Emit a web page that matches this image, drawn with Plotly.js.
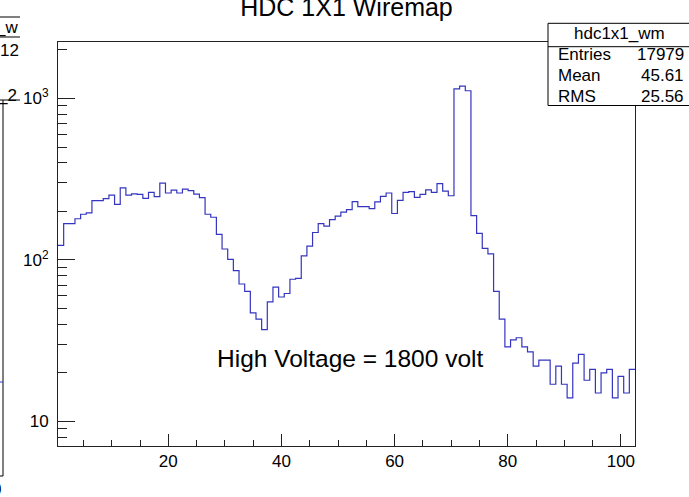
<!DOCTYPE html>
<html>
<head>
<meta charset="utf-8">
<script src="https://cdn.plot.ly/plotly-3.0.1.min.js"></script>
<style>
html,body{margin:0;padding:0;background:#fff;}
#chart{width:689px;height:497px;}
</style>
</head>
<body>
<div id="chart"></div>
<script>
// ---- data ----
const histName = "hdc1x1_wm";
const chartTitle = "HDC 1X1 Wiremap";
const noteText = "High Voltage = 1800 volt";
const statLabels = ["Entries", "Mean", "RMS"];
const statValues = ["17979", "45.61", "25.56"];
// counts per wire, wires 1..102
const counts = [
  123, 168, 168, 180, 192, 196, 233, 233, 240, 252,
  221, 280, 252, 257, 255, 241, 262, 247, 299, 260,
  271, 260, 275, 269, 256, 243, 192, 184, 144, 117,
  101,  86,  71,  64,  47,  43,  37,  55,  68,  59,
   62,  76,  77, 106, 122, 148, 168, 162, 178, 187,
  198, 205, 230, 214, 214, 208, 229, 248, 260, 194,
  234, 262, 265, 244, 255, 272, 262, 297, 267, 250,
 1146,1194,1117, 188, 146, 118, 109,  64,  43,  29,
   32,  33,  29,  27,  22,  24,  24,  17,  22,  17,
   14,  23,  26,  18,  21,  15,  20,  21,  14,  19,
   15,  21
];
const xTickVals = [20, 40, 60, 80, 100];
const yTickVals = [10, 100, 1000];
const yTickText = ["10", "10<sup>2</sup>", "10<sup>3</sup>"];

// ---- build step outline from bin edges ----
const xLow = 0.5, binW = 1;
const edges = [], stepY = [];
counts.forEach((c, i) => { edges.push(xLow + i * binW); stepY.push(c); });
edges.push(xLow + counts.length * binW);
stepY.push(counts[counts.length - 1]);

// ---- layout helpers (pixel -> paper) ----
const L = 58, R = 635, T = 42, B = 446;
const fx = x => (x - L) / (R - L);
const fy = y => (B - y) / (B - T);

const font = "Liberation Sans, Arial, Helvetica, sans-serif";
const yMinor = [7,8,9,20,30,40,50,60,70,80,90,200,300,400,500,600,700,800,900,2000];
const xMinor = [5,10,15,25,30,35,45,50,55,65,70,75,85,90,95];

function line(x0,y0,x1,y1,color){
  return {type:'line', xref:'paper', yref:'paper', x0:fx(x0), y0:fy(y0), x1:fx(x1), y1:fy(y1),
          line:{color:color||'#000', width:1}, layer:'above'};
}
function txt(text,x,y,xanchor,size){
  return {text:text, xref:'paper', yref:'paper', x:fx(x), y:fy(y), xanchor:xanchor, yanchor:'middle',
          showarrow:false, font:{family:font, size:size||17, color:'#000'}};
}

const shapes = [
  // neighbouring pad fragments on the left
  line(-2,17,20,17), line(-2,37,20,37), line(-2,100,20,100),
  line(3,100,3,476), line(-2,476,3,476), line(-2,382,3,382,'#3535c0'),
  // stats box
  {type:'rect', xref:'paper', yref:'paper', x0:fx(548), x1:fx(692), y0:fy(105.5), y1:fy(23.3),
   fillcolor:'#fff', line:{color:'#000', width:1}, layer:'above'},
  line(548,46.7,692,46.7)
];

const annotations = [
  txt("_w", 20, 28, 'right', 17),
  txt("12", 21, 50, 'right', 17),
  txt("_2", 19, 95, 'right', 17),
  txt("0", 3, 489, 'right', 17),
  txt(histName, 619, 34, 'center', 17),
  txt(noteText, 215, 358, 'left', 24.5)
];
statLabels.forEach((s, i) => {
  annotations.push(txt(s, 556, 54.5 + 21 * i, 'left', 17));
  annotations.push(txt(statValues[i], 686, 54.5 + 21 * i, 'right', 17));
});

const trace = {
  type:'scatter', mode:'lines', x:edges, y:stepY,
  line:{shape:'hv', color:'#3535c0', width:1.2},
  hoverinfo:'skip', showlegend:false
};

const layout = {
  width:689, height:497,
  margin:{l:L, r:689-R, t:T, b:497-B, pad:0},
  paper_bgcolor:'#fff', plot_bgcolor:'#fff',
  showlegend:false,
  title:{text:chartTitle, x:0.5, xanchor:'center', xref:'paper',
         y:1-7/497, yref:'container', yanchor:'middle',
         font:{family:font, size:25, color:'#000'}},
  xaxis:{type:'linear', range:[xLow, xLow + counts.length * binW],
         showgrid:false, zeroline:false, showline:true, linecolor:'#222', linewidth:1, mirror:true,
         tickmode:'array', tickvals:xTickVals, ticks:'inside', ticklen:12, tickcolor:'#222', tickwidth:1,
         minor:{tickmode:'array', tickvals:xMinor, ticks:'inside', ticklen:6, tickcolor:'#222', tickwidth:1, showgrid:false},
         tickfont:{family:font, size:17, color:'#000'}},
  yaxis:{type:'log', range:[0.848, 3.35],
         showgrid:false, zeroline:false, showline:true, linecolor:'#222', linewidth:1, mirror:true,
         tickmode:'array', tickvals:yTickVals, ticktext:yTickText, ticks:'inside', ticklen:17, tickcolor:'#222', tickwidth:1,
         ticklabelstandoff:5,
         minor:{tickmode:'array', tickvals:yMinor, ticks:'inside', ticklen:9, tickcolor:'#222', tickwidth:1, showgrid:false},
         tickfont:{family:font, size:17, color:'#000'}},
  shapes:shapes,
  annotations:annotations
};

Plotly.newPlot('chart', [trace], layout, {staticPlot:true, displayModeBar:false});
</script>
</body>
</html>
